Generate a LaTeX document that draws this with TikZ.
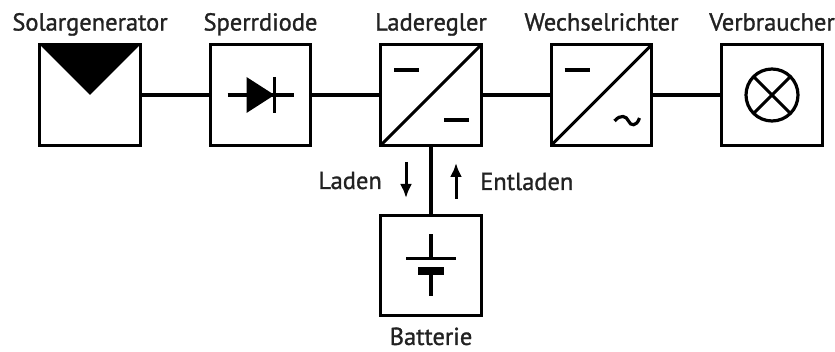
\documentclass[tikz,border=0pt]{standalone}
\usepackage{fontspec}
\newfontfamily\titlefont[FakeBold=1.2]{PT Sans}
\usetikzlibrary{arrows.meta, positioning, calc}
\definecolor{textcolor}{RGB}{34, 34, 34}

\begin{document}
\begin{tikzpicture}[
  x = 1pt,
  y = 1pt,
  node distance = 70pt,
  block/.style = {
    rectangle,
    draw,
    line width = 3.2pt,
    minimum size = 100.5pt,
    inner sep = 0pt,
    outer sep = 0pt
  },
  title/.style = {
    font = \titlefont\fontsize{24.5}{28}\selectfont,
    text = textcolor,
    text height = 17pt,
    text depth = 5pt,
    inner sep = 0pt
  },
  wire/.style = {
    line width = 3.1pt
  },
  symbol/.style = {
    line width = 3.05pt
  },
  flow/.style = {
    -{Latex[length=14pt, width=12pt]},
    line width = 3pt
  }
]
\useasboundingbox (0,0) rectangle (835,-352);

% Nodes
\node[block] (solar) at (90,-95) {};
\node[block, right=of solar] (diode) {};
\node[block, right=of diode] (regler) {};
\node[block, right=of regler] (inverter) {};
\node[block, right=of inverter] (load) {};
\node[block, below=of regler] (battery) {};

% Titles
\node[title, above=9pt of solar] (solartitle) {Solargenerator};
\node[title, above=9pt of diode] (diodetitle) {Sperrdiode};
\node[title, above=9pt of regler] (reglertitle) {Laderegler};
\node[title, above=9pt of inverter] (invertertitle) {Wechselrichter};
\node[title, above=9pt of load] (loadtitle) {Verbraucher};
\node[title, text depth=1pt, below=12pt of battery] (batterytitle) {Batterie};

% Wires
\draw[wire] (solar) -- (diode);
\draw[wire] (diode) -- (regler);
\draw[wire] (regler) -- (inverter);
\draw[wire] (inverter) -- (load);
\draw[wire] (regler) -- (battery);

% Solar panel
\fill (solar.north west) -- (solar.north east) -- (solar.center) -- cycle;

% Diode
\draw[symbol] ($(diode)+(-33,0)$) -- ($(diode)+(33,0)$);
\fill ($(diode)+(-14,18)$) -- ($(diode)+(14,0)$) -- ($(diode)+(-14,-18)$) -- cycle;
\draw[symbol, line width=3.2pt] ($(diode)+(14,18)$) -- ($(diode)+(14,-18)$);

% Charge controller
\draw[symbol] (regler.south west) -- (regler.north east);
\draw[symbol] ($(regler)+(-37,25)$) -- ($(regler)+(-12,25)$);
\draw[symbol] ($(regler)+(13,-25)$) -- ($(regler)+(38,-25)$);

% Inverter
\draw[symbol] (inverter.south west) -- (inverter.north east);
\draw[symbol] ($(inverter)+(-37,25)$) -- ($(inverter)+(-12,25)$);
\draw[symbol, line width=3.2pt] ($(inverter)+(13,-26)$) .. controls ($(inverter)+(19,-19)$) and ($(inverter)+(25,-21)$) .. ($(inverter)+(27,-26)$)
  .. controls ($(inverter)+(29,-31)$) and ($(inverter)+(35,-32)$) .. ($(inverter)+(38,-23)$);

% Lamp
\draw[symbol, line width=3.2pt] (load) circle (26);
\draw[symbol] ($(load)+(-18.4,18.4)$) -- ($(load)+(18.4,-18.4)$);
\draw[symbol] ($(load)+(-18.4,-18.4)$) -- ($(load)+(18.4,18.4)$);

% Battery
\draw[symbol] ($(battery)+(0,31)$) -- ($(battery)+(0,7)$);
\draw[symbol] ($(battery)+(-25,7)$) -- ($(battery)+(25,7)$);
\draw[symbol, line width=8pt] ($(battery)+(-13,-6)$) -- ($(battery)+(13,-6)$);
\draw[symbol, line width=3.2pt] ($(battery)+(0,-6)$) -- ($(battery)+(0,-31)$);

% Charge directions
\coordinate (chargestart) at ($(regler)+(-25,-67)$);
\coordinate (chargeend) at ($(regler)+(-25,-103)$);
\coordinate (dischargestart) at ($(regler)+(25,-104)$);
\coordinate (dischargeend) at ($(regler)+(25,-68)$);
\draw[flow] (chargestart) -- (chargeend);
\draw[flow] (dischargestart) -- (dischargeend);
\node[title, left=24pt of $(chargestart)!0.5!(chargeend)$, yshift=-3pt] (chargetitle) {Laden};
\node[title, right=24pt of $(dischargestart)!0.5!(dischargeend)$, yshift=-3pt] (dischargetitle) {Entladen};

\end{tikzpicture}
\end{document}
